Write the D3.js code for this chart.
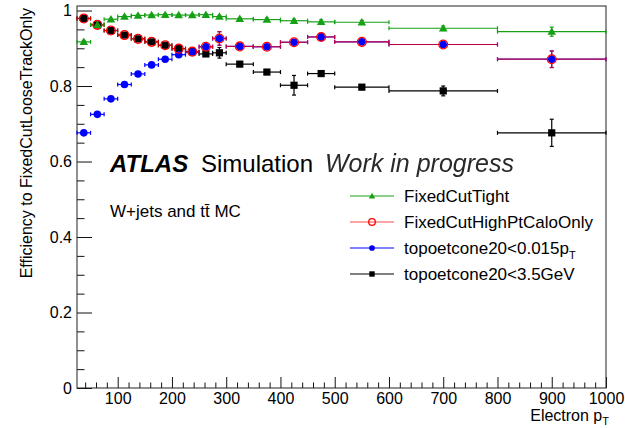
<!DOCTYPE html>
<html>
<head>
<meta charset="utf-8">
<script src="https://cdn.jsdelivr.net/npm/d3@7"></script>
<style>
  html, body { margin: 0; padding: 0; background: #fff; }
  svg { display: block; font-family: "Liberation Sans", Arial, Helvetica, sans-serif; }
</style>
</head>
<body>
<svg id="chart" width="625" height="428"></svg>
<script>
// Electron pT bin edges (GeV)
const binEdges = [25, 50, 75, 100, 125, 150, 175, 200, 225, 250, 275, 300, 350, 400, 450, 500, 600, 800, 1000];

// Efficiency relative to FixedCutLooseTrackOnly, one value per bin
const fixedCutTight = [0.917, 0.962, 0.977, 0.984, 0.987, 0.988, 0.989, 0.988, 0.988, 0.989, 0.984, 0.978, 0.976, 0.973, 0.970, 0.969, 0.953, 0.944];
const fixedCutTightErr = [0.004, 0.003, 0.002, 0.002, 0.002, 0.002, 0.002, 0.002, 0.002, 0.002, 0.003, 0.003, 0.004, 0.004, 0.005, 0.005, 0.006, 0.012];

const fixedCutHighPtCaloOnly = [0.979, 0.962, 0.947, 0.935, 0.925, 0.917, 0.908, 0.899, 0.891, 0.904, 0.926, 0.905, 0.904, 0.916, 0.930, 0.917, 0.910, 0.871];
const fixedCutHighPtCaloOnlyErr = [0.003, 0.003, 0.003, 0.003, 0.003, 0.003, 0.004, 0.004, 0.005, 0.006, 0.018, 0.004, 0.005, 0.006, 0.009, 0.005, 0.006, 0.022];

const topoRel = [0.676, 0.725, 0.766, 0.804, 0.832, 0.856, 0.871, 0.883, 0.890, 0.904, 0.926, 0.905, 0.904, 0.916, 0.930, 0.917, 0.910, 0.871];
const topoRelErr = [0.004, 0.004, 0.004, 0.004, 0.004, 0.004, 0.004, 0.004, 0.005, 0.006, 0.018, 0.004, 0.005, 0.006, 0.009, 0.005, 0.006, 0.022];

const topoAbs = [0.979, 0.962, 0.947, 0.935, 0.925, 0.917, 0.908, 0.899, 0.891, 0.885, 0.888, 0.858, 0.837, 0.802, 0.833, 0.797, 0.787, 0.676];
const topoAbsErr = [0.003, 0.003, 0.003, 0.003, 0.003, 0.003, 0.004, 0.004, 0.005, 0.006, 0.014, 0.005, 0.006, 0.026, 0.007, 0.006, 0.013, 0.036];

const xTickValues = [100, 200, 300, 400, 500, 600, 700, 800, 900, 1000];
const yTickValues = [0, 0.2, 0.4, 0.6, 0.8, 1];

const seriesNames = ["FixedCutTight", "FixedCutHighPtCaloOnly", "topoetcone20<0.015pT", "topoetcone20<3.5GeV"];

const svg = d3.select("#chart");
const W = 625, H = 428;
const m = { left: 77, right: 19, top: 6, bottom: 40 };

const x = d3.scaleLinear().domain([25, 1000]).range([m.left, W - m.right]);
const y = d3.scaleLinear().domain([0, 1.012]).range([H - m.bottom, m.top]);

// minor ticks
const xMinor = d3.range(40, 1001, 20).filter(v => v % 100 !== 0);
const yMinor = d3.range(0, 1.0001, 0.05).map(v => +v.toFixed(2)).filter(v => Math.round(v * 100) % 20 !== 0);

const gx = svg.append("g").attr("transform", `translate(0,${H - m.bottom})`);
gx.call(d3.axisBottom(x).tickValues(xTickValues).tickSizeInner(-11).tickSizeOuter(0).tickPadding(5).tickFormat(d3.format("d")));
gx.append("g").call(d3.axisBottom(x).tickValues(xMinor).tickSizeInner(-5.5).tickSizeOuter(0).tickFormat(""));
const gy = svg.append("g").attr("transform", `translate(${m.left},0)`);
gy.call(d3.axisLeft(y).tickValues(yTickValues).tickSizeInner(-15).tickSizeOuter(0).tickPadding(5).tickFormat(d3.format("")));
gy.append("g").call(d3.axisLeft(y).tickValues(yMinor).tickSizeInner(-7.5).tickSizeOuter(0).tickFormat(""));

svg.selectAll(".domain").remove();
svg.selectAll(".tick line").attr("stroke", "#111").attr("stroke-width", 1);
svg.selectAll(".tick text").attr("font-size", 16).attr("fill", "#000")
  .attr("font-family", "'Liberation Sans', Arial, sans-serif");

// frame
svg.append("rect")
  .attr("x", x(25)).attr("y", y(1.012))
  .attr("width", x(1000) - x(25)).attr("height", y(0) - y(1.012))
  .attr("fill", "none").attr("stroke", "#222").attr("stroke-width", 1);

// series drawn with bin-width horizontal bars and vertical error bars
const points = (vals, errs) => vals.map((v, i) => ({
  lo: binEdges[i], hi: binEdges[i + 1], c: (binEdges[i] + binEdges[i + 1]) / 2, v, e: errs[i]
}));

function drawBars(g, data, color, opacity) {
  const cap = 2;
  const s = g.append("g").attr("stroke", color).attr("stroke-width", 1.2).attr("stroke-opacity", opacity).attr("fill", "none");
  data.forEach(d => {
    const yy = y(d.v);
    s.append("line").attr("x1", x(d.lo)).attr("x2", x(d.hi)).attr("y1", yy).attr("y2", yy);
    s.append("line").attr("x1", x(d.lo)).attr("x2", x(d.lo)).attr("y1", yy - cap).attr("y2", yy + cap);
    s.append("line").attr("x1", x(d.hi)).attr("x2", x(d.hi)).attr("y1", yy - cap).attr("y2", yy + cap);
    s.append("line").attr("x1", x(d.c)).attr("x2", x(d.c)).attr("y1", y(d.v + d.e)).attr("y2", y(d.v - d.e));
    s.append("line").attr("x1", x(d.c) - cap).attr("x2", x(d.c) + cap).attr("y1", y(d.v + d.e)).attr("y2", y(d.v + d.e));
    s.append("line").attr("x1", x(d.c) - cap).attr("x2", x(d.c) + cap).attr("y1", y(d.v - d.e)).attr("y2", y(d.v - d.e));
  });
}

const markers = {
  square: (g, cx, cy, c, k = 1) => g.append("rect").attr("x", cx - 3.6 * k).attr("y", cy - 3.6 * k)
    .attr("width", 7.2 * k).attr("height", 7.2 * k).attr("fill", c),
  dot: (g, cx, cy, c, k = 1) => g.append("circle").attr("cx", cx).attr("cy", cy).attr("r", 3.8 * k).attr("fill", c),
  ring: (g, cx, cy, c, k = 1) => g.append("circle").attr("cx", cx).attr("cy", cy).attr("r", 4.4 * k)
    .attr("fill", "none").attr("stroke", c).attr("stroke-width", 1.3),
  tri: (g, cx, cy, c, k = 1) => g.append("path")
    .attr("d", `M${cx},${cy - 4.3 * k}L${cx + 4.3 * k},${cy + 3.2 * k}L${cx - 4.3 * k},${cy + 3.2 * k}Z`).attr("fill", c)
};

const series = [
  { key: "abs", vals: topoAbs, errs: topoAbsErr, color: "#000000", marker: "square", op: 1 },
  { key: "rel", vals: topoRel, errs: topoRelErr, color: "#0000ff", marker: "dot", op: 1 },
  { key: "calo", vals: fixedCutHighPtCaloOnly, errs: fixedCutHighPtCaloOnlyErr, color: "#ff0000", marker: "ring", op: 0.72 },
  { key: "tight", vals: fixedCutTight, errs: fixedCutTightErr, color: "#16a016", marker: "tri", op: 1 }
];

const plot = svg.append("g");
series.forEach(s => drawBars(plot, points(s.vals, s.errs), s.color, s.op));
series.forEach(s => {
  const g = plot.append("g");
  points(s.vals, s.errs).forEach(d => markers[s.marker](g, x(d.c), y(d.v), s.color));
});

// labels
svg.append("text").attr("x", 110).attr("y", 172).attr("font-size", 24)
  .attr("font-weight", "bold").attr("font-style", "italic").text("ATLAS");
svg.append("text").attr("x", 201).attr("y", 172).attr("font-size", 24).text("Simulation");

const defs = svg.append("defs");
defs.append("filter").attr("id", "soft").append("feGaussianBlur").attr("stdDeviation", 0.7);
svg.append("text").attr("x", 325).attr("y", 172).attr("font-size", 25).attr("font-style", "italic")
  .attr("fill", "#2a2a2a").attr("filter", "url(#soft)").text("Work in progress");

svg.append("text").attr("x", 110).attr("y", 217).attr("font-size", 17).text("W+jets and t\u0074\u0304 MC");

// legend
const legendRows = [
  { name: seriesNames[0], color: "#16a016", marker: "tri" },
  { name: seriesNames[1], color: "#ff0000", marker: "ring" },
  { name: seriesNames[2], color: "#0000ff", marker: "dot" },
  { name: seriesNames[3], color: "#000000", marker: "square" }
];
const leg = svg.append("g");
legendRows.forEach((r, i) => {
  const cy = 196 + i * 26;
  leg.append("line").attr("x1", 350).attr("x2", 394).attr("y1", cy).attr("y2", cy)
    .attr("stroke", r.color).attr("stroke-width", 1.2).attr("stroke-opacity", r.marker === "ring" ? 0.72 : 1);
  markers[r.marker](leg, 372, cy, r.color, 0.75);
  const t = leg.append("text").attr("x", 404).attr("y", cy).attr("dy", "0.36em").attr("font-size", 17);
  if (r.name.endsWith("pT")) {
    t.append("tspan").text(r.name.slice(0, -1));
    t.append("tspan").attr("font-size", 11).attr("dy", "0.45em").text("T");
  } else {
    t.text(r.name);
  }
});

// axis titles
const xt = svg.append("text").attr("x", 609).attr("y", 421).attr("font-size", 16).attr("text-anchor", "end");
xt.append("tspan").text("Electron p");
xt.append("tspan").attr("font-size", 11).attr("dy", "0.4em").text("T");

svg.append("text").attr("transform", "translate(32,8) rotate(-90)").attr("text-anchor", "end")
  .attr("font-size", 16).text("Efficiency to FixedCutLooseTrackOnly");
</script>
</body>
</html>
